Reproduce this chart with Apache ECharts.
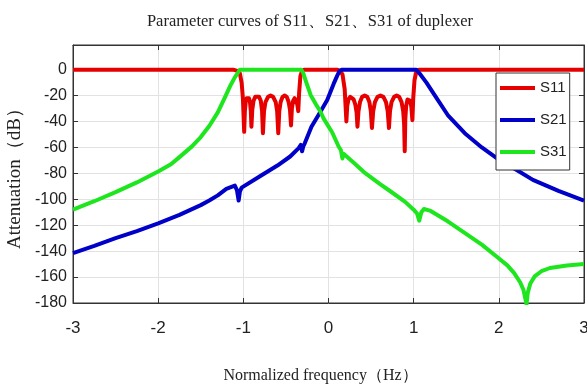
<!DOCTYPE html>
<html>
<head>
<meta charset="utf-8">
<script src="https://cdn.jsdelivr.net/npm/echarts@6/dist/echarts.min.js"></script>
<style>
  html, body { margin: 0; padding: 0; background: #fff; }
  #chart { width: 587px; height: 389px; }
</style>
</head>
<body>
<div id="chart"></div>
<script>
// values (normalized frequency, dB)
const s11Freq = [-3, -1.12, -1.07, -1.04, -1.02, -1.005, -0.99,
  -0.982, -0.972, -0.96, -0.947, -0.934, -0.922, -0.912, -0.905,
  -0.895, -0.88, -0.86, -0.838, -0.815, -0.795, -0.78, -0.77,
  -0.757, -0.74, -0.71, -0.68, -0.65, -0.62, -0.603, -0.59,
  -0.578, -0.562, -0.54, -0.515, -0.49, -0.468, -0.452, -0.44,
  -0.43, -0.415, -0.398, -0.38, -0.366, -0.355,
  -0.345, -0.33, -0.31, -0.28,
  0.1, 0.14, 0.165, 0.19, 0.21,
  0.22, 0.235, 0.255, 0.275, 0.295, 0.315, 0.33, 0.34,
  0.352, 0.37, 0.395, 0.425, 0.455, 0.48, 0.497, 0.51,
  0.525, 0.545, 0.575, 0.61, 0.645, 0.675, 0.695, 0.71,
  0.722, 0.74, 0.77, 0.8, 0.83, 0.858, 0.877, 0.888, 0.895,
  0.902, 0.912, 0.928, 0.945, 0.96, 0.973, 0.985,
  0.995, 1.01, 1.03, 1.06, 3];
const s11Db = [0, 0, -1, -3, -10, -22, -48,
  -32, -25, -22, -21, -22, -25, -32, -44,
  -31, -24, -21, -20, -21, -24, -32, -49,
  -32, -25, -21, -20, -21, -25, -32, -49,
  -32, -25, -21, -20, -21, -25, -31, -43,
  -30, -24, -22, -24, -27, -32,
  -18, -5, -1, 0,
  0, -1, -4, -15, -40,
  -28, -23, -21, -21, -23, -27, -33, -44,
  -32, -25, -21, -20, -21, -25, -32, -45,
  -32, -25, -21, -20, -21, -25, -32, -45,
  -32, -25, -21, -20, -21, -25, -32, -42, -63,
  -38, -28, -23, -22, -24, -29, -39,
  -22, -8, -2, 0, 0];

const s21Freq = [-3, -2.75, -2.5, -2.25, -2, -1.75, -1.5, -1.4, -1.3, -1.2,
  -1.1, -1.075, -1.055, -1.04, -1.02, -1.0, -0.8, -0.6, -0.45, -0.35,
  -0.325, -0.31, -0.295, -0.28, -0.2, -0.1, -0.015, 0.06, 0.1, 0.13,
  0.16, 1.03, 1.07, 1.15, 1.25, 1.4, 1.6, 1.8, 2.0, 2.2,
  2.4, 2.7, 3];
const s21Db = [-141.5, -136, -130, -124.5, -118.5, -112, -104.5, -101, -97, -92,
  -89.5, -93, -101, -94, -91, -90, -82, -74, -67, -60.5,
  -58, -63, -59, -57, -44, -33, -23.5, -11, -5, -1,
  0, 0, -3, -10, -20, -35, -49, -60, -69.5, -77,
  -85, -93.5, -101];

const s31Freq = [-3, -2.75, -2.5, -2.25, -2, -1.85, -1.75, -1.6, -1.5, -1.4,
  -1.3, -1.22, -1.15, -1.1, -1.06, -1.04, -0.32, -0.3, -0.27, -0.21,
  -0.15, -0.094, -0.055, 0.044, 0.12, 0.145, 0.163, 0.18, 0.2, 0.3,
  0.415, 0.61, 0.73, 0.9, 1.0, 1.04, 1.065, 1.09, 1.12, 1.2,
  1.4, 1.59, 1.8, 1.98, 2.1, 2.18, 2.25, 2.29, 2.325, 2.34,
  2.37, 2.42, 2.5, 2.6, 2.8, 3];
const s31Db = [-108, -101.5, -94.5, -87, -78.5, -73, -67.5, -59, -52, -43.5,
  -33, -22, -12, -6, -2, 0, 0, -2, -8, -19.5,
  -26.5, -32.5, -38, -48.5, -59.5, -62, -68.5, -65, -64.5, -72,
  -79, -88.5, -94, -102, -108, -111, -116.5, -110, -107.5, -109,
  -117, -125.5, -135, -144.5, -151, -157, -164, -170, -181, -172,
  -165, -159.5, -155.5, -153, -151, -150];

const seriesNames = ['S11', 'S21', 'S31'];
const seriesColors = ['#e60000', '#0000c8', '#1ee61e'];

function pairs(xs, ys) {
  return xs.map((x, i) => [x, ys[i]]);
}

const tickFont = "'Liberation Sans', Arial, sans-serif";
const serifFont = "'Liberation Serif', 'Times New Roman', serif";

const chart = echarts.init(document.getElementById('chart'), null, { renderer: 'canvas' });

const axisLineStyle = { show: true, onZero: false, lineStyle: { color: '#333', width: 1 } };
const axisTickStyle = { show: true, inside: true, length: 5, lineStyle: { color: '#333' } };
const mirrorAxis = {
  axisLabel: { show: false },
  axisLine: axisLineStyle,
  axisTick: axisTickStyle,
  splitLine: { show: false }
};

chart.setOption({
  animation: false,
  title: {
    text: 'Parameter curves of S11、S21、S31 of duplexer',
    left: 305,
    textAlign: 'center',
    top: 8,
    textStyle: { fontFamily: serifFont, fontSize: 16.5, fontWeight: 'normal', color: '#222' }
  },
  legend: {
    data: seriesNames,
    orient: 'vertical',
    left: 496,
    top: 73,
    icon: 'rect',
    itemWidth: 35,
    itemHeight: 4,
    itemGap: 16,
    itemStyle: { borderWidth: 0 },
    padding: [7, 3, 10, 4],
    backgroundColor: '#fff',
    borderColor: '#333',
    borderWidth: 1,
    borderRadius: 0,
    textStyle: { fontFamily: tickFont, fontSize: 15, color: '#222', lineHeight: 16 }
  },
  grid: {
    left: 73, right: 3, top: 45, bottom: 86,
    show: true, borderColor: '#333', borderWidth: 1,
    outerBoundsMode: 'none'
  },
  xAxis: [{
    type: 'value',
    min: -3, max: 3, interval: 1,
    name: 'Normalized frequency（Hz）',
    nameLocation: 'middle',
    nameGap: 65,
    nameTextStyle: { fontFamily: serifFont, fontSize: 16, color: '#222', padding: [0, 16, 0, 0] },
    axisLine: axisLineStyle,
    axisTick: axisTickStyle,
    axisLabel: { margin: 17, fontFamily: tickFont, fontSize: 17, color: '#222' },
    splitLine: { show: true, lineStyle: { color: '#e2e2e2', width: 1 } }
  }, Object.assign({
    type: 'value', position: 'top', min: -3, max: 3, interval: 1
  }, mirrorAxis)],
  yAxis: [{
    type: 'value',
    min: -180, max: 19, interval: 20,
    name: 'Attenuation（dB）',
    nameLocation: 'middle',
    nameGap: 43,
    nameTextStyle: { fontFamily: serifFont, fontSize: 19, color: '#222' },
    axisLine: axisLineStyle,
    axisTick: axisTickStyle,
    axisLabel: { margin: 6, showMaxLabel: false, fontFamily: tickFont, fontSize: 16, color: '#222' },
    splitLine: { show: true, lineStyle: { color: '#e2e2e2', width: 1 } }
  }, Object.assign({
    type: 'value', position: 'right', min: -180, max: 19, interval: 20
  }, mirrorAxis)],
  series: [
    { name: 'S11', type: 'line', data: pairs(s11Freq, s11Db) },
    { name: 'S21', type: 'line', data: pairs(s21Freq, s21Db) },
    { name: 'S31', type: 'line', data: pairs(s31Freq, s31Db) }
  ].map((s, i) => Object.assign(s, {
    showSymbol: false,
    symbol: 'none',
    clip: true,
    z: 2 + i,
    color: seriesColors[i],
    lineStyle: { color: seriesColors[i], width: 4, join: 'round' },
    emphasis: { disabled: true }
  }))
});
</script>
</body>
</html>
